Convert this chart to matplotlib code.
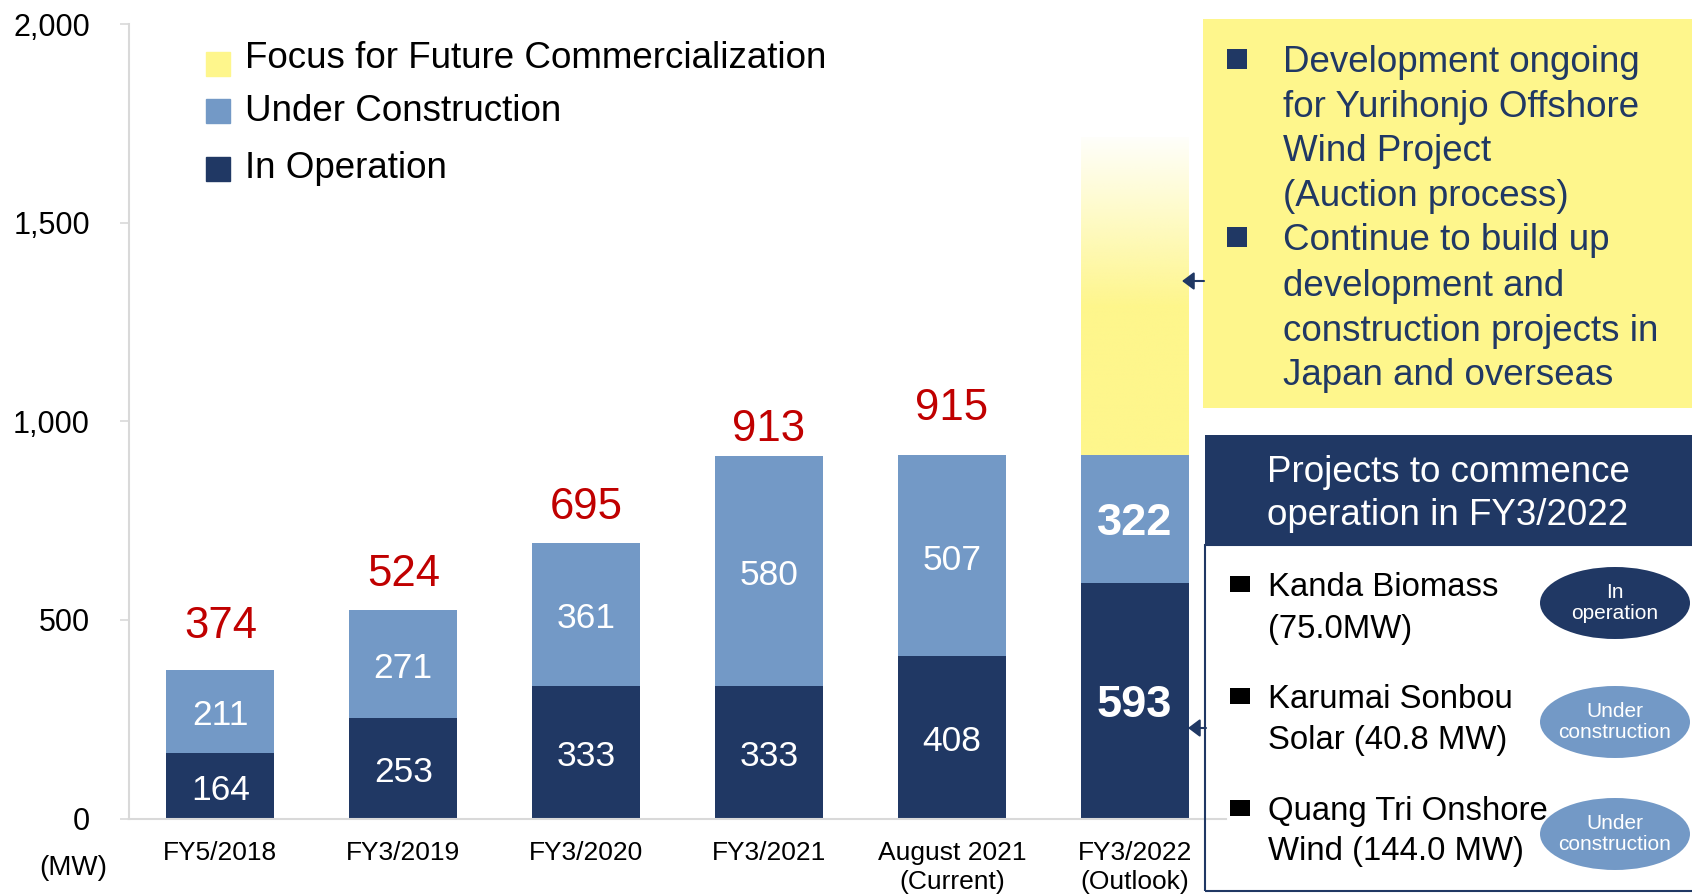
import numpy as np
import matplotlib.pyplot as plt
from matplotlib.patches import Rectangle, Ellipse, FancyArrowPatch
from matplotlib.colors import to_rgb

plt.rcParams['font.family'] = ['Liberation Sans', 'DejaVu Sans']

categories = ['FY5/2018', 'FY3/2019', 'FY3/2020', 'FY3/2021',
              'August 2021\n(Current)', 'FY3/2022\n(Outlook)']
in_operation = [164, 253, 333, 333, 408, 593]
under_construction = [211, 271, 361, 580, 507, 322]
totals = [374, 524, 695, 913, 915]
focus_solid_top = 1290
focus_fade_top = 1715
y_ticks = [0, 500, 1000, 1500, 2000]

legend_labels = ['Focus for Future Commercialization', 'Under Construction', 'In Operation']
outlook_notes = [['Development ongoing', 'for Yurihonjo Offshore', 'Wind Project', '(Auction process)'],
                 ['Continue to build up', 'development and', 'construction projects in',
                  'Japan and overseas']]
header = 'Projects to commence\noperation in FY3/2022'
projects = [('Kanda Biomass', '(75.0MW)'),
            ('Karumai Sonbou', 'Solar (40.8 MW)'),
            ('Quang Tri Onshore', 'Wind (144.0 MW)')]
project_status = ['In\noperation', 'Under\nconstruction', 'Under\nconstruction']

NAVY = '#203864'
BLUE = '#7399C6'
YELLOW = '#FEF68C'
RED = '#C00000'
GRID = '#D9D9D9'

W, H = 1692, 894
fig = plt.figure(figsize=(W / 100, H / 100), dpi=100)


def fx(px):
    return px / W


def fy(py):
    return 1 - py / H


ax = fig.add_axes([fx(129), fy(818.5), (1226 - 129) / W, (818.5 - 24) / H])

x = np.arange(len(categories))
bw = 0.59
ax.bar(x, in_operation, width=bw, color=NAVY, zorder=2)
ax.bar(x, under_construction, bottom=in_operation, width=bw, color=BLUE, zorder=2)

# fading "future" block on top of the outlook bar
last = x[-1]
base = in_operation[-1] + under_construction[-1]
ys = np.linspace(base, focus_fade_top, 400)
alpha = np.clip((focus_fade_top - ys) / (focus_fade_top - focus_solid_top), 0, 1)
img = np.zeros((len(ys), 1, 4))
img[..., :3] = to_rgb(YELLOW)
img[:, 0, 3] = 0.04 + 0.96 * alpha
ax.imshow(img, extent=[last - bw / 2, last + bw / 2, base, focus_fade_top],
          origin='lower', aspect='auto', interpolation='bilinear', zorder=2)

for i in x:
    last_bar = i == last
    fs = 32.5 if last_bar else 25.5
    fw = 'bold' if last_bar else 'normal'
    ax.text(i, in_operation[i] / 2 - 11, str(in_operation[i]), ha='center', va='center',
            color='white', fontsize=fs, fontweight=fw, zorder=3)
    ax.text(i, in_operation[i] + under_construction[i] / 2 - 11, str(under_construction[i]),
            ha='center', va='center', color='white', fontsize=fs, fontweight=fw, zorder=3)
label_gap = [109, 90, 88, 65, 118]
for i, t in enumerate(totals):
    ax.text(i, t + label_gap[i], str(t), ha='center', va='center', color=RED, fontsize=31.5)

ax.set_xlim(-0.5, 5.5)
ax.set_ylim(0, 2000)
ax.set_xticks(x)
ax.set_xticklabels(categories)
ax.set_yticks(y_ticks)
ax.set_yticklabels([f'{v:,}' for v in y_ticks])
for s in ['top', 'right']:
    ax.spines[s].set_visible(False)
for s in ['left', 'bottom']:
    ax.spines[s].set_color(GRID)
    ax.spines[s].set_linewidth(1.5)
ax.tick_params(axis='y', length=6.5, color=GRID, width=1.2, pad=21.6, labelsize=22)
ax.tick_params(axis='x', length=0, pad=16.5, labelsize=19)
for lbl in ax.get_xticklabels():
    lbl.set_linespacing(1.25)
fig.text(fx(73), fy(868), '(MW)', ha='center', va='center', fontsize=20)

# legend
leg_colors = [YELLOW, BLUE, NAVY]
leg_sq = [64, 111, 169]
leg_base = [67.5, 121, 178]
for lab, c, sq, bl in zip(legend_labels, leg_colors, leg_sq, leg_base):
    fig.add_artist(Rectangle((fx(206), fy(sq + 12)), 24 / W, 24 / H,
                             transform=fig.transFigure, color=c))
    fig.text(fx(245), fy(bl), lab, ha='left', va='baseline', fontsize=26.5)

# right side panels
fig.add_artist(Rectangle((fx(1203), fy(408)), (W - 1203) / W, (408 - 19) / H,
                         transform=fig.transFigure, color=YELLOW, lw=0))
line_y = [59, 104, 148, 193, 237, 283, 328, 372]
k = 0
for note in outlook_notes:
    fig.add_artist(Rectangle((fx(1227), fy(line_y[k] + 10)), 20 / W, 20 / H,
                             transform=fig.transFigure, color=NAVY, lw=0))
    for line in note:
        fig.text(fx(1283), fy(line_y[k] + 13), line, ha='left', va='baseline',
                 color=NAVY, fontsize=26.5)
        k += 1

fig.add_artist(Rectangle((fx(1205), fy(545)), (W - 1205) / W, 110 / H,
                         transform=fig.transFigure, color=NAVY, lw=0))
fig.add_artist(Rectangle((fx(1205), fy(891)), (W + 10 - 1205) / W, (891 - 545) / H,
                         transform=fig.transFigure, facecolor='none', edgecolor=NAVY, lw=1.5))
fig.text(fx(1448), fy(494), header, ha='center', va='center', color='white',
         fontsize=26.5, linespacing=1.3)

item_y = [(584, 626), (696, 737), (808, 848)]
ell_y = [603, 722, 834]
ell_c = [NAVY, BLUE, BLUE]
for (l1, l2), (y1, y2), st, ey, ec in zip(projects, item_y, project_status, ell_y, ell_c):
    fig.add_artist(Rectangle((fx(1230), fy(y1 + 8)), 20 / W, 16 / H,
                             transform=fig.transFigure, color='black', lw=0))
    fig.text(fx(1268), fy(y1 + 12), l1, ha='left', va='baseline', fontsize=23.7)
    fig.text(fx(1268), fy(y2 + 12), l2, ha='left', va='baseline', fontsize=23.7)
    fig.add_artist(Ellipse((fx(1615), fy(ey)), 150 / W, 72 / H,
                           transform=fig.transFigure, color=ec, lw=0))
    fig.text(fx(1615), fy(ey), st, ha='center', va='center', color='white',
             fontsize=15, linespacing=1.15)

for (x0, x1, yy) in [(1204, 1182, 281), (1206, 1188, 728)]:
    fig.add_artist(FancyArrowPatch((fx(x0), fy(yy)), (fx(x1), fy(yy)),
                                   transform=fig.transFigure,
                                   arrowstyle='-|>,head_length=0.36,head_width=0.27',
                                   mutation_scale=20, color=NAVY, lw=1.5,
                                   shrinkA=0, shrinkB=0))

fig.savefig('out.png', dpi=100)
